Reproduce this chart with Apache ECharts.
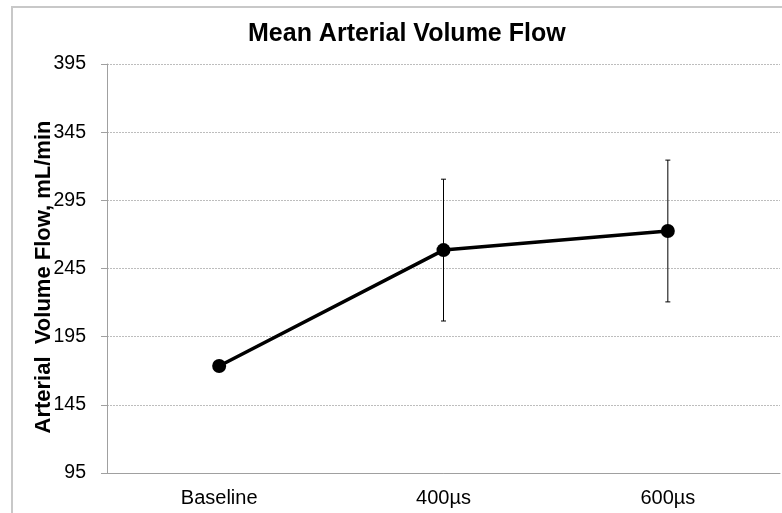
<!DOCTYPE html>
<html>
<head>
<meta charset="utf-8">
<script src="https://cdn.jsdelivr.net/npm/echarts@6/dist/echarts.min.js"></script>
<style>
  html, body { margin: 0; padding: 0; background: #fff; }
  #chart { width: 782px; height: 513px; }
</style>
</head>
<body>
<div id="chart"></div>
<script>
// categories and values
const categories = ['Baseline', '400\u00b5s', '600\u00b5s']
const meanFlow = [173.5, 258.5, 272.5]
const errLow = [null, 206.5, 220.5]
const errHigh = [null, 310.5, 324.5]
const yTicks = { min: 95, max: 395, step: 50 }

const errData = categories.map((c, i) => [i, errLow[i], errHigh[i]]).filter(d => d[1] != null)

let myChart = echarts.init(document.getElementById('chart'))
myChart.setOption({
  animation: false,
  textStyle: { fontFamily: 'Liberation Sans, Arial, sans-serif' },
  graphic: [
    {
      type: 'rect',
      shape: { x: 12, y: 7, width: 800, height: 540 },
      style: { fill: 'none', stroke: '#c8c8c8', lineWidth: 2 },
      silent: true
    }
  ],
  title: {
    text: 'Mean Arterial Volume Flow',
    left: 243,
    top: 17,
    textStyle: { fontSize: 25, fontWeight: 'bold', color: '#000' }
  },
  grid: { left: 107, right: 2, top: 64, bottom: 40, containLabel: false },
  xAxis: {
    type: 'category',
    data: categories,
    boundaryGap: true,
    axisLine: { lineStyle: { color: '#a0a0a0', width: 1 } },
    axisTick: { alignWithLabel: true, length: 5, lineStyle: { color: '#a0a0a0' } },
    axisLabel: { color: '#000', fontSize: 20, margin: 15 },
    splitLine: { show: false }
  },
  yAxis: {
    type: 'value',
    min: yTicks.min,
    max: yTicks.max,
    interval: yTicks.step,
    name: 'Arterial  Volume Flow, mL/min',
    nameLocation: 'middle',
    nameGap: 52,
    nameMoveOverlap: false,
    nameTextStyle: { fontSize: 22, fontWeight: 'bold', color: '#000', padding: [0, 17, 0, 0] },
    axisLine: { show: true, lineStyle: { color: '#a0a0a0', width: 1 } },
    axisTick: { show: true, length: 6, lineStyle: { color: '#a0a0a0' } },
    axisLabel: { color: '#000', fontSize: 19.5, margin: 21 },
    splitLine: { show: true, lineStyle: { color: '#bdbdbd', type: [2, 1], width: 1 } }
  },
  series: [
    {
      type: 'custom',
      z: 2,
      data: errData,
      renderItem: function (params, api) {
        const x = api.value(0)
        const lo = api.coord([x, api.value(1)])
        const hi = api.coord([x, api.value(2)])
        const cap = 2.5
        const style = { stroke: '#000', lineWidth: 1 }
        return {
          type: 'group',
          children: [
            { type: 'line', shape: { x1: hi[0], y1: hi[1], x2: lo[0], y2: lo[1] }, style: style },
            { type: 'line', shape: { x1: hi[0] - cap, y1: hi[1], x2: hi[0] + cap, y2: hi[1] }, style: style },
            { type: 'line', shape: { x1: lo[0] - cap, y1: lo[1], x2: lo[0] + cap, y2: lo[1] }, style: style }
          ]
        }
      }
    },
    {
      type: 'line',
      z: 3,
      data: meanFlow,
      symbol: 'circle',
      symbolSize: 14,
      lineStyle: { color: '#000', width: 3.5 },
      itemStyle: { color: '#000' }
    }
  ]
})
</script>
</body>
</html>
